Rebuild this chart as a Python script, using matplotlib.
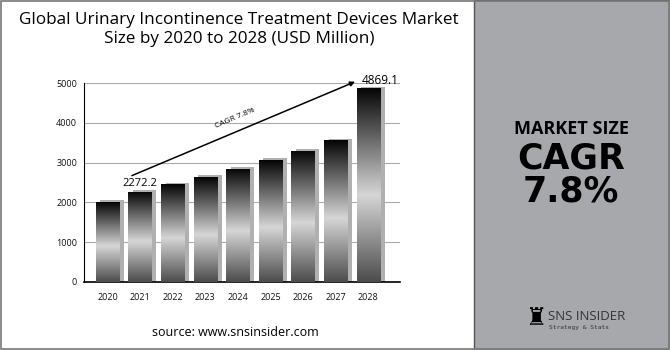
import numpy as np
import matplotlib.pyplot as plt
from matplotlib.colors import LinearSegmentedColormap
from matplotlib.patches import Rectangle

# Data
years = ['2020', '2021', '2022', '2023', '2024', '2025', '2026', '2027', '2028']
values = [2016, 2272.2, 2454, 2638, 2848, 3067, 3302, 3563, 4869.1]
yticks = [0, 1000, 2000, 3000, 4000, 5000]

plt.rcParams['font.family'] = ['Open Sans', 'DejaVu Sans']

fig = plt.figure(figsize=(6.7, 3.5), dpi=100)
fig.patch.set_facecolor('white')

# right grey panel + outer border
fig.patches.append(Rectangle((474 / 670, 0), 1 - 474 / 670, 1, transform=fig.transFigure,
                             facecolor='#a7a8ab', edgecolor='#555555', lw=1.0, zorder=0))
fig.patches.append(Rectangle((0.001, 0.002), 0.997, 0.995, transform=fig.transFigure,
                             facecolor='none', edgecolor='#777777', lw=1.2, zorder=5))

ax = fig.add_axes([84 / 670, 68.3 / 350, 316 / 670, 198.4 / 350])
ax.set_facecolor('none')

x = np.arange(len(years))
width = 0.72

# shadows
ax.bar(x + 0.14, [v + 40 for v in values], width=width, color='#b0b0b0', zorder=2)
bars = ax.bar(x, values, width=width, color='none', zorder=3)

cmap = LinearSegmentedColormap.from_list('metal', [(0, '#4c4c4c'), (0.45, '#d6d6d6'), (1, '#050505')])
grad = np.linspace(0, 1, 256).reshape(-1, 1)
for b in bars:
    x0, y0 = b.get_x(), b.get_y()
    im = ax.imshow(grad, cmap=cmap, origin='lower', aspect='auto', zorder=3,
                   extent=[x0, x0 + b.get_width(), y0, y0 + b.get_height()])
    im.set_clip_path(b)

ax.set_xlim(-0.72, 8.97)
ax.set_ylim(0, 5000)
ax.set_yticks(yticks)
ax.set_xticks(x)
ax.set_xticklabels(years)
ax.tick_params(axis='both', length=0, labelsize=6.5, colors='#111111')
ax.tick_params(axis='y', pad=5)
ax.tick_params(axis='x', pad=8)
ax.grid(axis='y', color='#aaaaaa', lw=0.8, zorder=0)
ax.set_axisbelow(True)
for s in ['top', 'right']:
    ax.spines[s].set_visible(False)
ax.spines['left'].set_color('black')
ax.spines['bottom'].set_color('black')
ax.spines['bottom'].set_linewidth(1.2)

# value labels
ax.text(x[1], values[1] + 60, f'{values[1]}', ha='center', va='bottom', fontsize=8)
ax.text(x[8] - 0.22, 5060, f'{values[8]}', ha='left', va='center', fontsize=8.5, clip_on=False)

# CAGR arrow
ax.annotate('', xy=(7.67, 5066), xytext=(0.67, 2646), annotation_clip=False,
            arrowprops=dict(arrowstyle='-|>', color='black', lw=1.1, mutation_scale=7))
ax.text(3.9, 4120, 'CAGR 7.8%', rotation=23, ha='center', va='center', fontsize=6)

# title and source
fig.text(239 / 670, 1 - 20 / 350, 'Global Urinary Incontinence Treatment Devices Market',
         ha='center', va='center', fontsize=12.3)
fig.text(239 / 670, 1 - 39 / 350, 'Size by 2020 to 2028 (USD Million)',
         ha='center', va='center', fontsize=12.3)
fig.text(235 / 670, 1 - 332 / 350, 'source: www.snsinsider.com', ha='center', va='center', fontsize=9)

# right panel text
cx = 571 / 670
fig.text(cx, 1 - 129 / 350, 'MARKET SIZE', ha='center', va='center', fontsize=13, fontweight='bold')
fig.text(cx, 1 - 175 / 350, 'CAGR\n7.8%', ha='center', va='center', fontsize=25, fontweight='bold',
         family='DejaVu Sans', linespacing=0.95)

# logo
fig.text(536 / 670, 1 - 318 / 350, '\u265c', ha='center', va='center', fontsize=17,
         family='DejaVu Sans', color='black')
fig.text(548 / 670, 1 - 316 / 350, 'SNS INSIDER', ha='left', va='center', fontsize=9.5, color='#333333')
fig.text(549 / 670, 1 - 328 / 350, 'Strategy & Stats', ha='left', va='center', fontsize=4.5,
         color='#333333', family='DejaVu Sans Mono')

fig.savefig('out.png', dpi=100)
